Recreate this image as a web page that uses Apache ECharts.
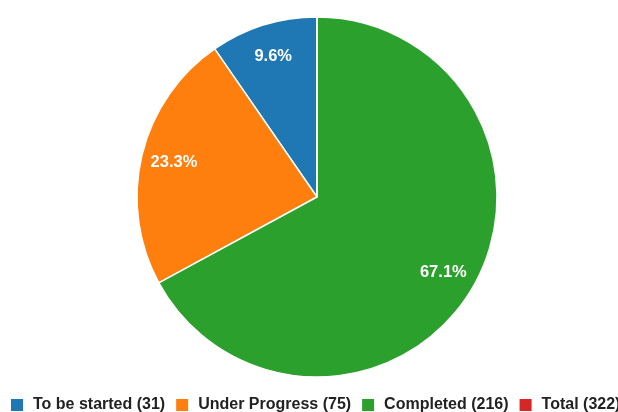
<!DOCTYPE html>
<html>
<head>
<meta charset="utf-8">
<script src="https://cdn.jsdelivr.net/npm/echarts@6/dist/echarts.min.js"></script>
<style>
  html, body { margin: 0; padding: 0; background: #fff; }
  #chart { width: 618px; height: 412px; }
</style>
</head>
<body>
<div id="chart"></div>
<script>
var categories = ['To be started', 'Under Progress', 'Completed'];
var values = [31, 75, 216];
var colors = ['#1f77b4', '#ff7f0e', '#2ca02c'];
var totalColor = '#d62728';

var total = values.reduce(function (a, b) { return a + b; }, 0);
var names = categories.map(function (c, i) { return c + ' (' + values[i] + ')'; });
var totalName = 'Total (' + total + ')';

var pieData = values.map(function (v, i) {
    return { name: names[i], value: v, itemStyle: { color: colors[i] } };
});
pieData.push({ name: totalName, value: 0, itemStyle: { color: totalColor },
    label: { show: false }, labelLine: { show: false } });

// transparent ring, only used to place the percent labels at ~80% of the radius
var labelData = values.map(function (v, i) {
    return { name: names[i], value: v };
});

var myChart = echarts.init(document.getElementById('chart'));
myChart.setOption({
    animation: false,
    legend: {
        data: names.concat([totalName]),
        left: 9,
        top: 397,
        width: 700,
        padding: 0,
        itemWidth: 14,
        itemHeight: 14,
        itemGap: 9,
        icon: 'path://M0,0H10V10H0Z',
        textStyle: {
            fontFamily: '"Liberation Sans", Arial, sans-serif',
            fontWeight: 'bold',
            fontSize: 16,
            color: '#222',
            padding: [0, 0, 0, 4]
        }
    },
    series: [{
        type: 'pie',
        center: [317, 197],
        radius: [0, 180],
        startAngle: 90,
        clockwise: false,
        silent: true,
        itemStyle: { borderColor: '#fff', borderWidth: 1.5 },
        label: { show: false },
        labelLine: { show: false },
        data: pieData
    }, {
        type: 'pie',
        center: [317, 197],
        radius: [108, 180],
        startAngle: 90,
        clockwise: false,
        silent: true,
        legendHoverLink: false,
        itemStyle: { color: 'rgba(0,0,0,0)' },
        label: {
            show: true,
            position: 'inside',
            formatter: function (p) {
                return (p.value / total * 100).toFixed(1) + '%';
            },
            color: '#fff',
            fontFamily: '"Liberation Sans", Arial, sans-serif',
            fontWeight: 'bold',
            fontSize: 16.5
        },
        labelLine: { show: false },
        data: labelData
    }]
});
</script>
</body>
</html>
